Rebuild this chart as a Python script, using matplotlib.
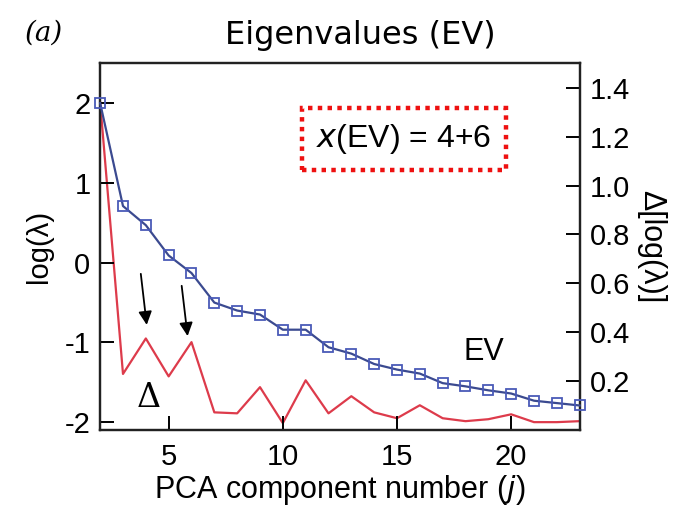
import matplotlib
matplotlib.use("agg")
import matplotlib.pyplot as plt

# component numbers
j = list(range(2, 24))

# eigenvalues, log scale (left axis)
ev = [2.00, 0.71, 0.47, 0.09, -0.13, -0.50, -0.60, -0.65, -0.84, -0.84, -1.06,
      -1.14, -1.27, -1.34, -1.39, -1.51, -1.55, -1.60, -1.64, -1.73, -1.76, -1.79]

# delta of log eigenvalues (right axis)
delta = [1.34, 0.23, 0.375, 0.22, 0.36, 0.073, 0.069, 0.176, 0.029, 0.204, 0.069,
         0.139, 0.073, 0.049, 0.102, 0.049, 0.037, 0.045, 0.065, 0.033, 0.033, 0.037]

x_ticks = [5, 10, 15, 20]
left_ticks = [-2, -1, 0, 1, 2]
right_ticks = [0.2, 0.4, 0.6, 0.8, 1.0, 1.2, 1.4]

plt.rcParams['font.family'] = ['Liberation Sans', 'DejaVu Sans']
plt.rcParams['axes.unicode_minus'] = False

fig = plt.figure(figsize=(6.86, 5.14), dpi=100)
ax = fig.add_axes([0.146, 0.163, 0.699, 0.714])
ax2 = ax.twinx()

ax2.plot(j, delta, color='#dd3b4b', lw=1.6, zorder=2)
ax.plot(j, ev, color='#3b4a90', lw=1.6, marker='s', ms=7.5,
        mfc='none', mec='#4a5ab8', mew=1.3, zorder=3, clip_on=False)
ax.set_zorder(ax2.get_zorder() + 1)
ax.patch.set_visible(False)

ax.set_xlim(2, 23)
ax.set_ylim(-2.1, 2.5)
ax2.set_ylim(0, 1.5)
ax.set_xticks(x_ticks)
ax.set_yticks(left_ticks)
ax2.set_yticks(right_ticks)
ax2.set_yticklabels([f'{v:.1f}' for v in right_ticks])

for a in (ax, ax2):
    a.tick_params(direction='in', length=10, width=1.4, labelsize=21, pad=7)
    for s in a.spines.values():
        s.set_linewidth(1.6)
        s.set_color('#222222')
ax.tick_params(axis='x', pad=9)

ax.set_xlabel('PCA component number ($\\it{j}$)', fontsize=22, labelpad=2)
ax.set_ylabel('log(λ)', fontsize=21, labelpad=8)
ax2.set_ylabel('Δ[log(λ)]', fontsize=22, rotation=270, labelpad=26)

fig.text(0.525, 0.93, 'Eigenvalues (EV)', ha='center', va='center', fontsize=23,
         family=['DejaVu Sans'])
fig.text(0.064, 0.936, '(a)', ha='center', va='center', fontsize=20,
         family=['DejaVu Serif'], style='italic')

# annotations
arrow = dict(arrowstyle='-|>', color='black', lw=1.3, mutation_scale=20,
             shrinkA=0, shrinkB=0)
ax.annotate('', xy=(4.04, -0.78), xytext=(3.78, -0.14), arrowprops=arrow)
ax.annotate('', xy=(5.83, -0.92), xytext=(5.57, -0.29), arrowprops=arrow)
ax.text(4.13, -1.69, 'Δ', fontsize=24, ha='center', va='center',
        family=['DejaVu Serif'])
ax.text(18.8, -1.12, 'EV', fontsize=22, ha='center', va='center')

ax.text(15.3, 1.55, '$\\it{x}$(EV) = 4+6', fontsize=23, ha='center', va='center',
        bbox=dict(boxstyle='square,pad=0.45', fc='white', ec='#ee1111',
                  lw=3.2, ls=(0, (1, 1.2))))

fig.savefig('out.png', dpi=100)
